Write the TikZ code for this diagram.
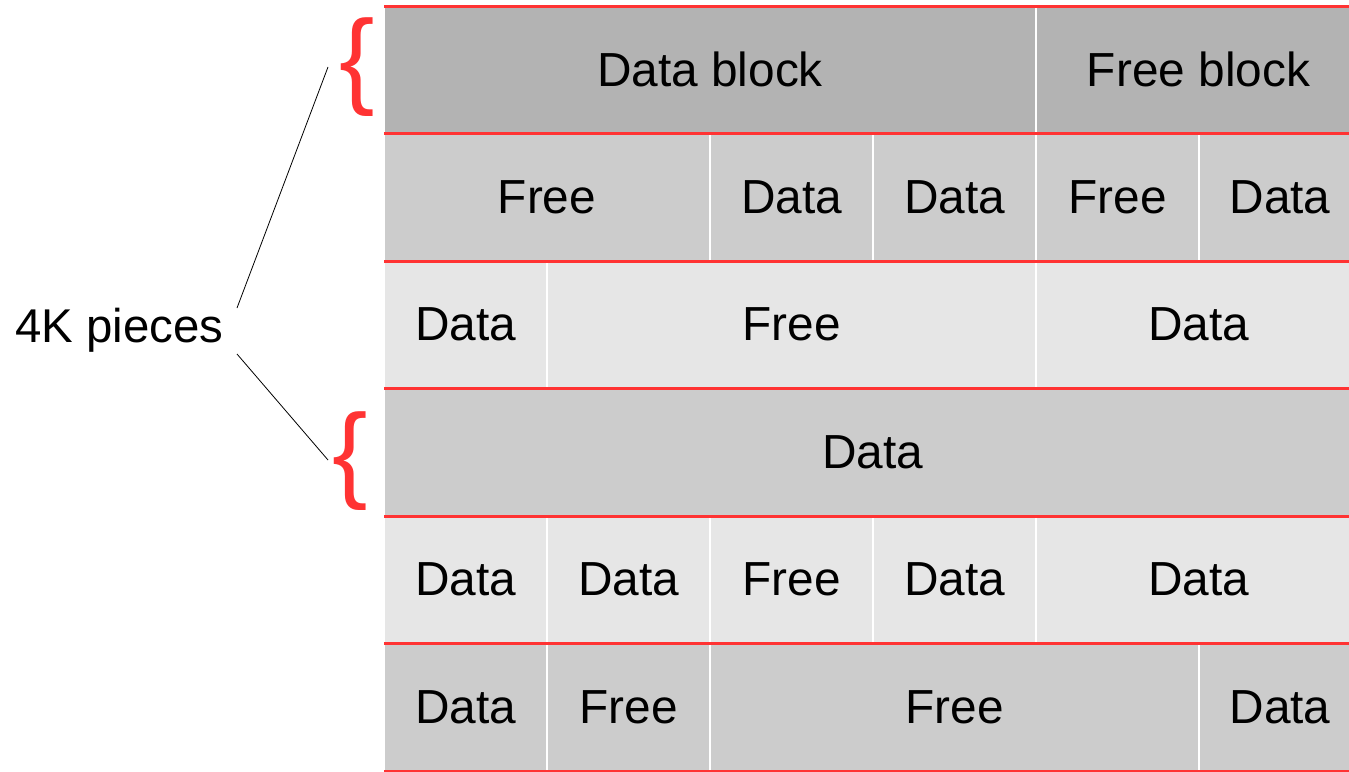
\documentclass[tikz,border=0pt]{standalone}
\usepackage{fontspec}
\setmainfont{Liberation Sans}
\definecolor{rowA}{HTML}{B3B3B3}
\definecolor{rowB}{HTML}{CCCCCC}
\definecolor{rowC}{HTML}{E6E6E6}
\definecolor{redline}{HTML}{FF3333}
\newcommand\mkcell[7]{%
  \node[cell, fill=#6, minimum width={#3-#2}, minimum height={#5-#4}] (#1) at ({(#2+#3)/2},{(#4+#5)/2}) {#7};}
\begin{document}
\begin{tikzpicture}[x=1pt,y=-1pt,
  cell/.style={draw=white, line width=1.5pt, inner sep=0pt, outer sep=0pt,
    font=\fontsize{47.8}{57}\selectfont, text=black},
  sep/.style={draw=redline, line width=3pt},
  bracefont/.style={text=redline, inner sep=0pt, outer sep=0pt, font=\fontsize{106}{120}\selectfont},
  conn/.style={draw=black, line width=0.8pt}]
\useasboundingbox (0,0) rectangle (1349,771);
\clip (0,0) rectangle (1349,771);
% row 1
\mkcell{r1a}{384}{1036}{6}{133.5}{rowA}{Data block}
\mkcell{r1b}{1036}{1361}{6}{133.5}{rowA}{Free block}
% row 2
\mkcell{r2a}{384}{710}{133.5}{261}{rowB}{Free}
\mkcell{r2b}{710}{873}{133.5}{261}{rowB}{Data}
\mkcell{r2c}{873}{1036}{133.5}{261}{rowB}{Data}
\mkcell{r2d}{1036}{1199}{133.5}{261}{rowB}{Free}
\mkcell{r2e}{1199}{1361}{133.5}{261}{rowB}{Data}
% row 3
\mkcell{r3a}{384}{547}{261}{388.5}{rowC}{Data}
\mkcell{r3b}{547}{1036}{261}{388.5}{rowC}{Free}
\mkcell{r3c}{1036}{1361}{261}{388.5}{rowC}{Data}
% row 4
\mkcell{r4a}{384}{1361}{388.5}{516}{rowB}{Data}
% row 5
\mkcell{r5a}{384}{547}{516}{643.5}{rowC}{Data}
\mkcell{r5b}{547}{710}{516}{643.5}{rowC}{Data}
\mkcell{r5c}{710}{873}{516}{643.5}{rowC}{Free}
\mkcell{r5d}{873}{1036}{516}{643.5}{rowC}{Data}
\mkcell{r5e}{1036}{1361}{516}{643.5}{rowC}{Data}
% row 6
\mkcell{r6a}{384}{547}{643.5}{771}{rowB}{Data}
\mkcell{r6b}{547}{710}{643.5}{771}{rowB}{Free}
\mkcell{r6c}{710}{1199}{643.5}{771}{rowB}{Free}
\mkcell{r6d}{1199}{1361}{643.5}{771}{rowB}{Data}
% red row lines
\foreach \yy in {6,133.5,261,388.5,516,643.5,771}
  \draw[sep] (384,\yy) -- (1362,\yy);
% braces
\node[bracefont] (brace1) at (357,67) {\{};
\node[bracefont] (brace2) at (350,461) {\{};
% label
\node[anchor=base west, inner sep=0pt, font=\fontsize{47.4}{56}\selectfont] (label) at (15,342) {4K pieces};
\coordinate (lt) at (237,308);
\coordinate (lb) at (237,354);
\coordinate (bt1) at (328,67);
\coordinate (bt2) at (328,460);
\draw[conn] (lt) -- (bt1);
\draw[conn] (lb) -- (bt2);
\end{tikzpicture}
\end{document}
